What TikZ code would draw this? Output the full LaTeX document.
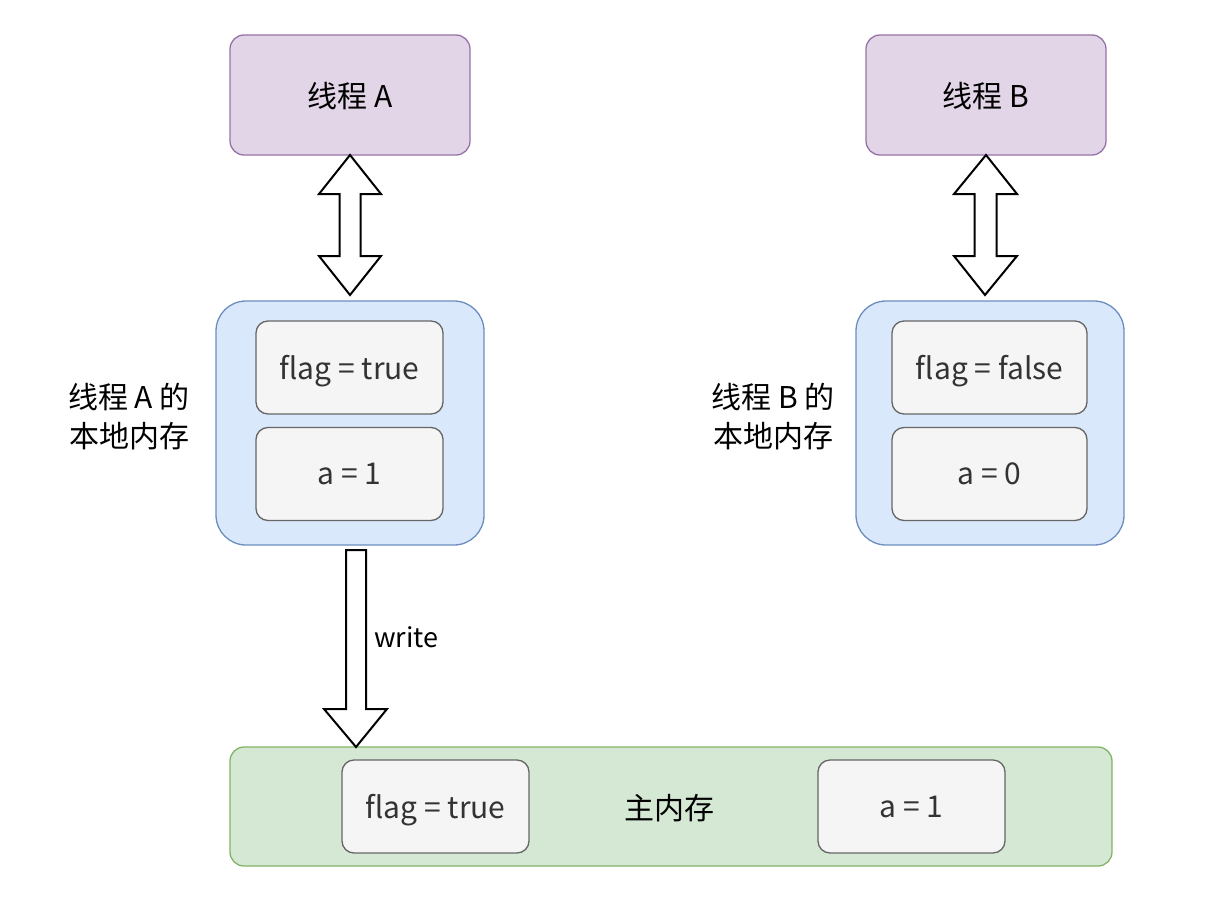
\documentclass[tikz,border=0pt]{standalone}
\usepackage{fontspec}
\setmainfont{Noto Sans CJK SC}
\usetikzlibrary{calc}
\definecolor{threadfill}{HTML}{E1D5E7}
\definecolor{threadline}{HTML}{9673A6}
\definecolor{localfill}{HTML}{DAE8FC}
\definecolor{localline}{HTML}{6C8EBF}
\definecolor{cellfill}{HTML}{F5F5F5}
\definecolor{cellline}{HTML}{666666}
\definecolor{cellText}{HTML}{333333}
\definecolor{mainfill}{HTML}{D5E8D4}
\definecolor{mainline}{HTML}{82B366}
\begin{document}
\begin{tikzpicture}[x=1pt,y=-1pt,
  every node/.style={inner sep=0pt, outer sep=0pt},
  big/.style={font=\fontsize{30}{39}\selectfont},
  threadbox/.style={draw=threadline, fill=threadfill, rounded corners=14, line width=1.3, minimum width=240, minimum height=120, big, text depth=0pt},
  localbox/.style={draw=localline, fill=localfill, rounded corners=30, line width=1.3, minimum width=268, minimum height=244},
  cellbox/.style={draw=cellline, fill=cellfill, rounded corners=12, line width=1.3, minimum height=93, text=cellText, big, text depth=0pt},
  mainbox/.style={draw=mainline, fill=mainfill, rounded corners=14, line width=1.3, minimum width=882, minimum height=119},
  fat/.style={draw=black, fill=white, line width=2, line join=miter}
]
\useasboundingbox (0,0) rectangle (1213,907);

% threads
\node[threadbox] (ta) at (350,95) {线程 A};
\node[threadbox] (tb) at (986,95) {线程 B};

% local memories
\node[localbox] (la) at (350,423) {};
\node[localbox] (lb) at (990,423) {};
\node[cellbox, minimum width=187] (fa) at (349.5,367.5) {flag = true};
\node[cellbox, minimum width=187] (aa) at (349.5,474) {a = 1};
\node[cellbox, minimum width=195] (fb) at (989.5,367.5) {flag = false};
\node[cellbox, minimum width=195] (ab) at (989.5,474) {a = 0};
\node[big, align=center] (labA) at (129,417) {线程 A 的\\本地内存};
\node[big, align=center] (labB) at (773,417) {线程 B 的\\本地内存};

% main memory
\node[mainbox] (mm) at (671,806.5) {};
\node[cellbox, minimum width=187] (fm) at (435.5,806.5) {flag = true};
\node[cellbox, minimum width=187] (am) at (911.5,806.5) {a = 1};
\node[big, text depth=0pt] (mlabel) at (669,807) {主内存};

% double arrows
\coordinate (abot) at (350,295);
\coordinate (bbot) at (985,295);
\draw[fat] (ta.south) -- ++(31,39) -- ++(-20.5,0) -- ++(0,62) -- ++(20.5,0) -- (abot)
  -- ++(-31,-39) -- ++(20.5,0) -- ++(0,-62) -- ++(-20.5,0) -- cycle;
\draw[fat] (tb.south) -- ++(31,39) -- ++(-20.5,0) -- ++(0,62) -- ++(20.5,0) -- (bbot)
  -- ++(-31,-39) -- ++(20.5,0) -- ++(0,-62) -- ++(-20.5,0) -- cycle;

% write arrow
\coordinate (wtop) at (356,550);
\coordinate (wtip) at (356,747);
\draw[fat] ($(wtop)+(-10,0)$) -- ($(wtop)+(10,0)$) -- ++(0,159) -- ++(21,0) -- (wtip)
  -- ++(-32,-38) -- ++(22,0) -- cycle;
\node[font=\fontsize{27}{32}\selectfont, anchor=west, text depth=0pt] (wlabel) at (374,637) {write};
\end{tikzpicture}
\end{document}
